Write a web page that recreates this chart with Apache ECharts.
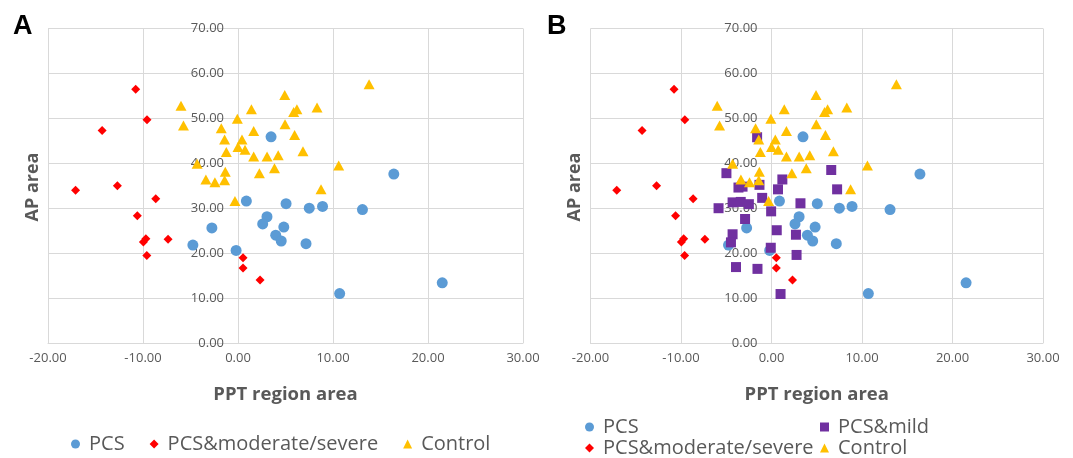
<!doctype html>
<html lang="en">
<head>
    <meta charset="UTF-8">
    <title>AP area vs PPT region area</title>
    <script src="https://cdn.jsdelivr.net/npm/echarts@6/dist/echarts.min.js"></script>
    <style>
        html, body { margin: 0; padding: 0; background: #fff; }
        #chart { width: 1073px; height: 458px; }
    </style>
</head>
<body>
<div id="chart"></div>
<script type="text/javascript">
    // 数据 (x = PPT region area, y = AP area)
    var pcs = [[-4.75, 21.8], [-2.75, 25.6], [-0.2, 20.6], [0.88, 31.6], [3.48, 45.9], [3.05, 28.1],
        [2.6, 26.5], [3.97, 24.0], [4.55, 22.7], [5.06, 31.0], [4.82, 25.8], [7.5, 30.0],
        [8.9, 30.4], [7.16, 22.1], [10.7, 11.0], [13.1, 29.7], [16.4, 37.6], [21.5, 13.4]];
    var severe = [[-10.77, 56.5], [-14.3, 47.3], [-9.58, 49.7], [-17.1, 34.0], [-12.7, 35.0],
        [-8.66, 32.1], [-10.6, 28.3], [-9.7, 23.2], [-9.96, 22.5], [-9.6, 19.5], [-7.36, 23.1],
        [0.53, 19.0], [0.53, 16.7], [2.32, 14.0]];
    var control = [[-6.0, 52.8], [-5.74, 48.4], [-1.76, 47.8], [-1.41, 45.3], [-1.23, 42.5],
        [-1.34, 38.1], [-1.41, 36.2], [-3.38, 36.4], [-2.43, 35.8], [-4.3, 39.9], [-0.07, 49.9],
        [0.42, 45.3], [0, 43.6], [0.74, 43.0], [-0.32, 31.6], [1.41, 52.0], [1.65, 47.2],
        [1.65, 41.5], [2.25, 37.8], [3.06, 41.5], [3.84, 38.9], [4.23, 41.8], [4.92, 55.2],
        [4.95, 48.7], [5.86, 51.4], [6.2, 52.0], [5.96, 46.3], [6.84, 42.7], [8.32, 52.4],
        [8.74, 34.2], [10.6, 39.5], [13.8, 57.6]];
    var mild = [[-1.59, 45.8], [-4.98, 37.8], [-3.65, 34.6], [-3.2, 34.8], [-1.33, 35.2], [1.2, 36.4],
        [0.72, 34.2], [-1.03, 32.3], [-5.85, 30.0], [-4.3, 31.3], [-3.4, 31.4], [-2.5, 30.9],
        [-0.04, 29.3], [-2.92, 27.6], [3.2, 31.1], [0.58, 25.1], [2.7, 24.1], [-4.3, 24.2],
        [-4.48, 22.4], [-0.08, 21.2], [2.77, 19.6], [-3.92, 16.9], [-1.55, 16.5], [1.0, 10.9],
        [6.6, 38.5], [7.25, 34.2]];

    var xRange = [-20, 30];
    var yRange = [0, 70];

    var gray = '#595959';
    var gridColor = '#D9D9D9';
    var font = '"Open Sans", "Noto Sans", sans-serif';

    // 两个绘图区
    var grids = [
        {left: 48, top: 28.5, width: 475, height: 314.5},
        {left: 590.5, top: 28.5, width: 452.5, height: 314.5}
    ];

    var makeX = function (idx) {
        return {
            type: 'value', gridIndex: idx, min: xRange[0], max: xRange[1], interval: 10,
            name: 'PPT region area', nameLocation: 'middle', nameGap: 42,
            nameTextStyle: {color: gray, fontSize: 18.5, fontWeight: 'bold', fontFamily: font},
            axisLine: {show: true, onZero: false, lineStyle: {color: gridColor}},
            axisTick: {show: false},
            axisLabel: {color: gray, fontSize: 13, fontFamily: font, margin: 9,
                formatter: function (v) { return v.toFixed(2); }},
            splitLine: {show: true, lineStyle: {color: gridColor}}
        };
    };
    // y轴放在 x=0 处
    var makeY = function (idx) {
        var shift = (0 - xRange[0]) / (xRange[1] - xRange[0]) * grids[idx].width;
        return {
            type: 'value', gridIndex: idx, min: yRange[0], max: yRange[1], interval: 10,
            position: 'left', offset: -shift,
            axisLine: {show: true, onZero: false, lineStyle: {color: gridColor}},
            axisTick: {show: false},
            axisLabel: {color: gray, fontSize: 13, fontFamily: font, margin: 14,
                formatter: function (v) { return v.toFixed(2); }},
            splitLine: {show: true, lineStyle: {color: gridColor}}
        };
    };
    var makeSeries = function (name, data, idx, symbol, size, color) {
        return {
            name: name, type: 'scatter', xAxisIndex: idx, yAxisIndex: idx,
            data: data, symbol: symbol, symbolSize: size,
            itemStyle: {color: color, opacity: 1}
        };
    };
    var legendText = {color: gray, fontSize: 20, fontFamily: font, padding: [0, 0, 0, 4]};
    var yTitle = function (x) {
        return {type: 'text', x: x, y: 187, rotation: Math.PI / 2,
            style: {text: 'AP area', fontSize: 18, fontWeight: 'bold', fontFamily: font, fill: gray,
                align: 'center', verticalAlign: 'middle'}};
    };

    var myChart = echarts.init(document.getElementById('chart'));
    var option = {
        animation: false,
        grid: grids,
        xAxis: [makeX(0), makeX(1)],
        yAxis: [makeY(0), makeY(1)],
        legend: [
            {data: ['PCS', 'PCS&moderate/severe', 'Control'], left: 66, top: 429, itemGap: 25,
                itemWidth: 9, itemHeight: 9, textStyle: legendText},
            {data: ['PCS', 'PCS&moderate/severe'], orient: 'vertical', left: 580, top: 412, height: 80,
                itemGap: 1, itemWidth: 9, itemHeight: 9, textStyle: legendText},
            {data: ['PCS&mild', 'Control'], orient: 'vertical', left: 815, top: 412, height: 80,
                itemGap: 1, itemWidth: 9, itemHeight: 9, textStyle: legendText}
        ],
        graphic: [
            {type: 'text', left: 13, top: 13, style: {text: 'A', fontSize: 27, fontWeight: 'bold', fontFamily: 'Liberation Sans, Arial', fill: '#000'}},
            {type: 'text', left: 547, top: 13, style: {text: 'B', fontSize: 27, fontWeight: 'bold', fontFamily: 'Liberation Sans, Arial', fill: '#000'}},
            yTitle(33),
            yTitle(575)
        ],
        series: [
            makeSeries('PCS', pcs, 0, 'circle', 11, '#5B9BD5'),
            makeSeries('PCS&moderate/severe', severe, 0, 'diamond', 9, '#FF0000'),
            makeSeries('Control', control, 0, 'triangle', [11, 10], '#FFC000'),
            makeSeries('PCS', pcs, 1, 'circle', 11, '#5B9BD5'),
            makeSeries('PCS&mild', mild, 1, 'rect', 10, '#7030A0'),
            makeSeries('PCS&moderate/severe', severe, 1, 'diamond', 9, '#FF0000'),
            makeSeries('Control', control, 1, 'triangle', [11, 10], '#FFC000')
        ]
    };
    myChart.setOption(option);
</script>
</body>
</html>
